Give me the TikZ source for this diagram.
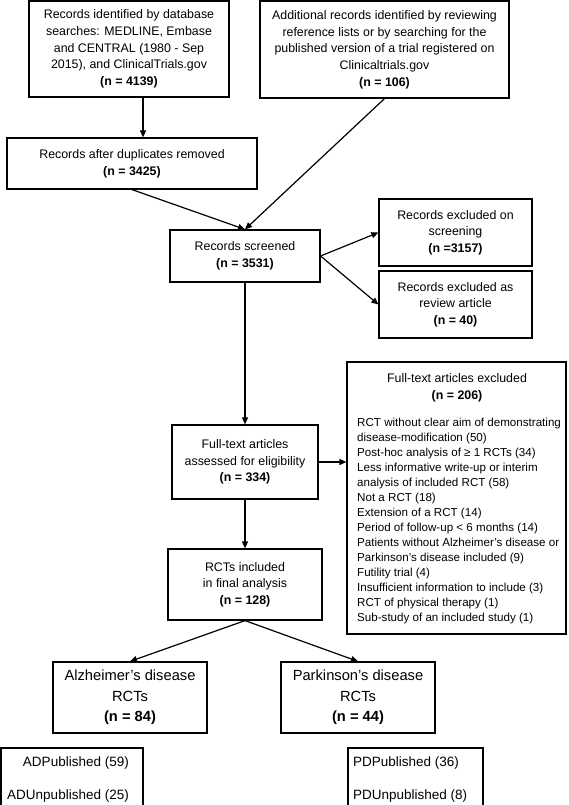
\documentclass[tikz,border=0pt]{standalone}
\usepackage{fontspec}
\setmainfont{Liberation Sans}
\usetikzlibrary{arrows.meta}
\newcommand{\myfs}[2]{\fontsize{#1}{#2}\selectfont}
\begin{document}
\begin{tikzpicture}[x=1pt,y=-1pt,
  box/.style={draw, line width=1.2pt, inner sep=0pt, align=center, font=\myfs{12.4}{16.7}},
  bigtext/.style={inner sep=0pt, align=center, font=\myfs{14.7}{20.5}},
  arr/.style={line width=1.2pt, -{Triangle[length=7pt,width=6pt]}}]
\fill[white] (0,0) rectangle (568,805);
\useasboundingbox (0,0) rectangle (568,805);
\clip (0,0) rectangle (568,805);

\node[box, minimum width=200pt, minimum height=96pt] (b1) at (129,49)
  {Records identified by database\\ searches: MEDLINE, Embase\\ and CENTRAL (1980 - Sep\\ 2015), and ClinicalTrials.gov\\ \textbf{(n = 4139)}};
\node[box, minimum width=249pt, minimum height=97pt] (b2) at (384.5,49.5)
  {Additional records identified by reviewing\\ reference lists or by searching for the\\ published version of a trial registered on\\ Clinicaltrials.gov\\ \textbf{(n = 106)}};
\node[box, minimum width=250pt, minimum height=51pt] (b3) at (132,163.5)
  {Records after duplicates removed\\ \textbf{(n = 3425)}};
\node[box, minimum width=150pt, minimum height=52pt] (scr) at (245,256)
  {Records screened\\ \textbf{(n = 3531)}};
\node[box, minimum width=153pt, minimum height=67pt] (exs) at (455.5,232.5)
  {Records excluded on\\ screening\\ \textbf{(n =3157)}};
\node[box, minimum width=153pt, minimum height=67pt] (exr) at (455.5,304.5)
  {Records excluded as\\ review article\\ \textbf{(n = 40)}};
\node[box, minimum width=146pt, minimum height=74pt] (ft) at (245,462)
  {Full-text articles\\ assessed for eligibility\\ \textbf{(n = 334)}};
\node[box, minimum width=154pt, minimum height=71pt] (rct) at (245,584.5)
  {RCTs included\\ in final analysis\\ \textbf{(n = 128)}};
\node[box, minimum width=219pt, minimum height=272pt] (ex) at (456.5,498) {};
\node[inner sep=0pt, align=center, font=\myfs{12.4}{16.7}] (extitle) at (457,388)
  {Full-text articles excluded\\ \textbf{(n = 206)}};
\node[inner sep=0pt, align=left, anchor=west, font=\myfs{11.6}{15}] (exitems) at (357,521)
  {RCT without clear aim of demonstrating\\
   disease-modification (50)\\
   Post-hoc analysis of ≥ 1 RCTs (34)\\
   Less informative write-up or interim\\
   analysis of included RCT (58)\\
   Not a RCT (18)\\
   Extension of a RCT (14)\\
   Period of follow-up < 6 months (14)\\
   Patients without Alzheimer’s disease or\\
   Parkinson’s disease included (9)\\
   Futility trial (4)\\
   Insufficient information to include (3)\\
   RCT of physical therapy (1)\\
   Sub-study of an included study (1)};
\node[box, bigtext, minimum width=154pt, minimum height=71pt] (ad) at (130,697.5)
  {Alzheimer’s disease\\ RCTs\\ \textbf{(n = 84)}};
\node[box, bigtext, minimum width=154pt, minimum height=71pt] (pd) at (358,697.5)
  {Parkinson’s disease\\ RCTs\\ \textbf{(n = 44)}};
\node[box, minimum width=142pt, minimum height=82pt] (adp) at (72,789) {};
\node[box, minimum width=135pt, minimum height=82pt] (pdp) at (415.5,789) {};
\node[inner sep=0pt, align=right, anchor=east, font=\myfs{13.5}{33}] (adpt) at (129,779)
  {ADPublished (59)\\ ADUnpublished (25)};
\node[inner sep=0pt, align=left, anchor=west, font=\myfs{13.5}{33}] (pdpt) at (353,779)
  {PDPublished (36)\\ PDUnpublished (8)};

\draw[arr] ([xshift=14pt]b1.south) -- ([xshift=14pt]b1.south |- b3.north);
\draw[arr] (b3.south) -- (scr.north);
\draw[arr] (b2.south) -- (scr.north);
\draw[arr] (scr.east) -- (exs.west);
\draw[arr] (scr.east) -- (exr.west);
\draw[arr] (scr.south) -- (ft.north);
\draw[arr] (ft.east) -- (ft.east -| ex.west);
\draw[arr] (ft.south) -- (rct.north);
\draw[arr] (rct.south) -- (ad.north);
\draw[arr] (rct.south) -- (pd.north);
\end{tikzpicture}
\end{document}
